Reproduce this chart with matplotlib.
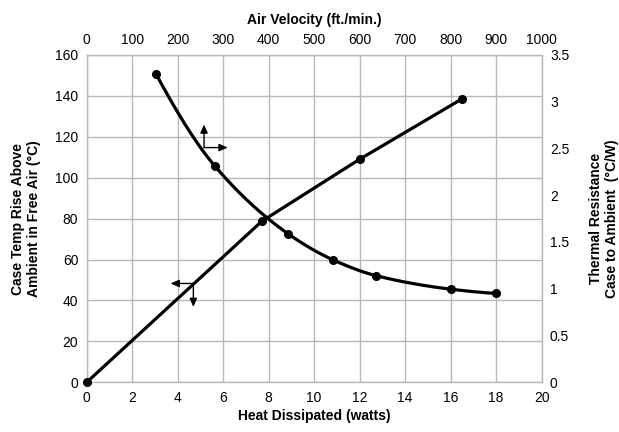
import numpy as np
import matplotlib
matplotlib.use("Agg")
import matplotlib.pyplot as plt

plt.rcParams['font.family'] = ['Liberation Sans', 'DejaVu Sans']

# Case temperature rise vs heat dissipated (bottom/left axes)
heat_w = [0, 7.7, 12.0, 16.5]
temp_rise = [0, 78.7, 109, 138.5]

# Thermal resistance vs air velocity (top/right axes)
air_vel = [152, 282, 442, 541, 636, 801, 899]
therm_res = [3.30, 2.31, 1.59, 1.31, 1.14, 0.995, 0.95]

x_ticks = list(range(0, 21, 2))
y_ticks = list(range(0, 161, 20))
top_ticks = list(range(0, 1001, 100))
right_ticks = [0, 0.5, 1, 1.5, 2, 2.5, 3, 3.5]
right_labels = ['0', '0.5', '1', '1.5', '2', '2.5', '3', '3.5']


def pchip(xs, ys, n=40):
    x = np.asarray(xs, float); y = np.asarray(ys, float)
    h = np.diff(x); d = np.diff(y) / h
    m = np.zeros_like(y)
    for k in range(1, len(x)-1):
        if d[k-1] * d[k] > 0:
            w1 = 2*h[k] + h[k-1]; w2 = h[k] + 2*h[k-1]
            m[k] = (w1 + w2) / (w1/d[k-1] + w2/d[k])
    m[0] = ((2*h[0] + h[1])*d[0] - h[0]*d[1]) / (h[0] + h[1])
    if np.sign(m[0]) != np.sign(d[0]):
        m[0] = 0
    m[-1] = ((2*h[-1] + h[-2])*d[-1] - h[-1]*d[-2]) / (h[-1] + h[-2])
    if np.sign(m[-1]) != np.sign(d[-1]):
        m[-1] = 0
    ox, oy = [], []
    for k in range(len(x)-1):
        t = np.linspace(0, 1, n)
        h00 = 2*t**3 - 3*t**2 + 1; h10 = t**3 - 2*t**2 + t
        h01 = -2*t**3 + 3*t**2; h11 = t**3 - t**2
        ox.extend(x[k] + t*h[k])
        oy.extend(h00*y[k] + h10*h[k]*m[k] + h01*y[k+1] + h11*h[k]*m[k+1])
    return np.array(ox), np.array(oy)


fig = plt.figure(figsize=(6.19, 4.32), dpi=100)
pos = [0.140, 0.115, 0.735, 0.758]
ax = fig.add_axes(pos)
grid_c = '#b8b8b8'
ax.set_xlim(0, 20); ax.set_ylim(0, 160)
ax.set_xticks(x_ticks); ax.set_yticks(y_ticks)
ax.grid(True, color=grid_c, lw=1.0)
ax.set_axisbelow(True)
for s in ax.spines.values():
    s.set_color(grid_c); s.set_linewidth(1.0)
ax.tick_params(length=0, labelsize=10, pad=6)
ax.set_xlabel('Heat Dissipated (watts)', fontsize=10, fontweight='bold', labelpad=3)
ax.set_ylabel('Case Temp Rise Above\nAmbient in Free Air (°C)', fontsize=10,
              fontweight='bold', labelpad=10)

ax.plot(heat_w, temp_rise, color='black', lw=2.3, marker='o', ms=5.5, zorder=3,
        clip_on=False)

ax2 = fig.add_axes(pos, frameon=False)
ax2.set_xlim(0, 1000); ax2.set_ylim(0, 3.5)
ax2.xaxis.tick_top(); ax2.xaxis.set_label_position('top')
ax2.yaxis.tick_right(); ax2.yaxis.set_label_position('right')
ax2.set_xticks(top_ticks)
ax2.set_yticks(right_ticks); ax2.set_yticklabels(right_labels)
ax2.tick_params(length=0, labelsize=10, pad=6)
ax2.set_xlabel('Air Velocity (ft./min.)', fontsize=10, fontweight='bold', labelpad=6)
ax2.set_ylabel('Thermal Resistance\nCase to Ambient  (°C/W)', fontsize=10,
               fontweight='bold', labelpad=14, rotation=90)
ax2.patch.set_visible(False)

sx, sy = pchip(air_vel, therm_res)
ax2.plot(sx, sy, color='black', lw=2.3, zorder=3)
ax2.plot(air_vel, therm_res, 'o', color='black', ms=5.5, zorder=4)

# direction arrows (in bottom/left data coords)
akw = dict(arrowstyle='-|>,head_length=0.5,head_width=0.22', color='black', lw=1.0,
           shrinkA=0, shrinkB=0)
ax.annotate('', xy=(5.16, 126), xytext=(5.16, 114.7), arrowprops=akw)
ax.annotate('', xy=(6.2, 114.7), xytext=(5.16, 114.7), arrowprops=akw)
ax.annotate('', xy=(3.69, 48.3), xytext=(4.69, 48.3), arrowprops=akw)
ax.annotate('', xy=(4.69, 36.8), xytext=(4.69, 48.3), arrowprops=akw)

fig.savefig('out.png', dpi=100)
